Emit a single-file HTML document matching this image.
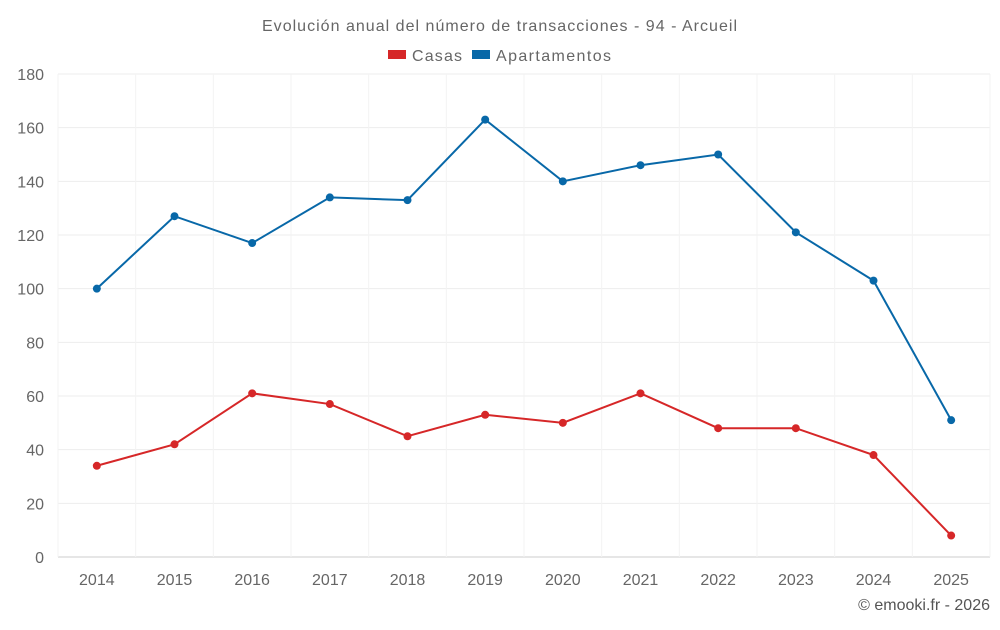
<!DOCTYPE html>
<html><head><meta charset="utf-8"><style>
body{margin:0;background:#fff;font-family:"Liberation Sans",Arial,sans-serif}
svg text{font-family:"Liberation Sans",Arial,sans-serif}
</style></head><body>
<svg id="chart" width="1000" height="625">
<text x="262" y="31" textLength="475" lengthAdjust="spacing" font-size="16" fill="#666">Evolución anual del número de transacciones - 94 - Arcueil</text>
<g>
<g><rect x="388" y="50" width="18" height="9" fill="#d62728"/><text x="412" y="61" textLength="50" lengthAdjust="spacing" font-size="16" fill="#666">Casas</text></g>
<g><rect x="472" y="50" width="18" height="9" fill="#0868a8"/><text x="496" y="61" textLength="115" lengthAdjust="spacing" font-size="16" fill="#666">Apartamentos</text></g>
</g>
<g id="grid"></g><g id="axes"></g><g id="series"></g>
<text x="990" y="610" text-anchor="end" font-size="16" fill="#555">© emooki.fr - 2026</text>
</svg>
<script>
const categories=["2014","2015","2016","2017","2018","2019","2020","2021","2022","2023","2024","2025"];
const casas=[34,42,61,57,45,53,50,61,48,48,38,8];
const apartamentos=[100,127,117,134,133,163,140,146,150,121,103,51];
const yTicks=[0,20,40,60,80,100,120,140,160,180];
const NS="http://www.w3.org/2000/svg";
const L=58,R=990,T=74,B=557,yMax=180;
const bw=(R-L)/categories.length;
const x=i=>L+bw*(i+0.5);
const y=v=>B-(v/yMax)*(B-T);
function mk(tag,attrs,parent){const e=document.createElementNS(NS,tag);for(const k in attrs)e.setAttribute(k,attrs[k]);parent.appendChild(e);return e;}
const grid=document.getElementById('grid'),axes=document.getElementById('axes'),series=document.getElementById('series');
yTicks.forEach(t=>{
 const l=mk('line',{x1:L,x2:R,y1:y(t),y2:y(t),stroke:t===0?'#ccc':'#ededed'},grid);
 
 
 const tx=mk('text',{x:L-14,y:y(t)+6,'text-anchor':'end','font-size':16,fill:'#666'},axes);
 tx.textContent=t;
 
 
});
for(let i=0;i<=categories.length;i++){
 const l=mk('line',{x1:L+bw*i,x2:L+bw*i,y1:T,y2:B,stroke:'#f3f3f3'},grid);
 
 
}
categories.forEach((c,i)=>{
 const tx=mk('text',{x:x(i),y:B+28,'text-anchor':'middle','font-size':16,fill:'#666'},axes);
 tx.textContent=c;
 
 
});
function draw(vals,color,name){
 const p=mk('polyline',{points:vals.map((v,i)=>x(i)+','+y(v)).join(' '),fill:'none',stroke:color,'stroke-width':2},series);
 
 
 vals.forEach((v,i)=>{
  const c=mk('circle',{cx:x(i),cy:y(v),r:4,fill:color},series);
  
  
 });
}
draw(apartamentos,'#0868a8','apartamentos');
draw(casas,'#d62728','casas');
</script>
</body></html>
